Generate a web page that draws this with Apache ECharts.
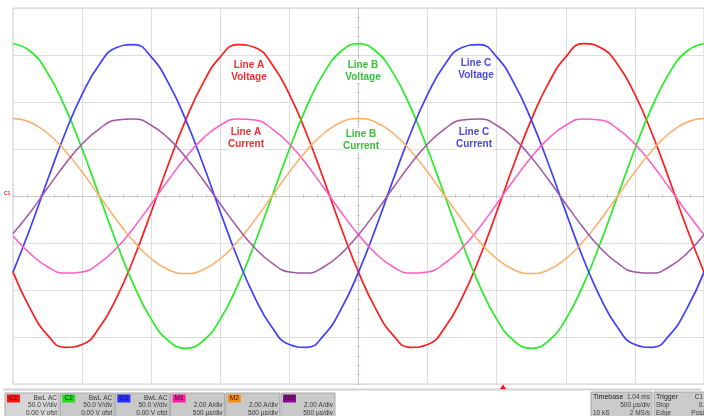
<!DOCTYPE html>
<html>
<head>
<meta charset="utf-8">
<script src="https://cdn.jsdelivr.net/npm/echarts@6/dist/echarts.min.js"></script>
<style>
html,body{margin:0;padding:0;background:#fff;}
#chart{width:704px;height:416px;}
</style>
</head>
<body>
<div id="chart"></div>
<script>
// time in ms (10 divisions of 500 us)
const timeMs = [-2.5,-2.375,-2.25,-2.125,-2,-1.875,-1.75,-1.625,-1.5,-1.375,-1.25,-1.125,-1,-0.875,-0.75,-0.625,-0.5,-0.375,-0.25,-0.125,0,0.125,0.25,0.375,0.5,0.625,0.75,0.875,1,1.125,1.25,1.375,1.5,1.625,1.75,1.875,2,2.125,2.25,2.375,2.5];
// voltages (V), 50 V/div
const lineAVoltage = [-81,-120,-148,-161,-158,-140,-108,-66,-17,34,81,120,148,161,158,140,108,66,17,-34,-81,-120,-148,-161,-158,-140,-108,-66,-17,34,81,120,148,162,158,140,108,66,17,-34,-81];
const lineBVoltage = [162,154,131,95,50,0,-50,-95,-131,-154,-162,-154,-131,-95,-50,0,50,95,131,154,162,154,131,95,50,0,-50,-95,-131,-154,-162,-154,-131,-95,-50,0,50,95,131,154,162];
const lineCVoltage = [-81,-34,17,66,108,140,158,161,148,120,81,34,-17,-66,-108,-140,-158,-161,-148,-120,-81,-34,17,66,108,140,158,161,148,120,81,34,-17,-66,-108,-140,-158,-161,-148,-120,-81];
// currents (A), 2 A/div
const lineACurrent = [-1.7,-2.45,-3.01,-3.28,-3.23,-2.86,-2.21,-1.34,-0.34,0.69,1.65,2.45,3.01,3.28,3.23,2.86,2.21,1.34,0.34,-0.69,-1.65,-2.45,-3.01,-3.28,-3.23,-2.86,-2.21,-1.34,-0.34,0.69,1.65,2.45,3.01,3.28,3.23,2.86,2.21,1.34,0.34,-0.69,-1.65];
const lineBCurrent = [3.3,3.14,2.67,1.94,1.02,0,-1.02,-1.94,-2.67,-3.14,-3.3,-3.14,-2.67,-1.94,-1.02,0,1.02,1.94,2.67,3.14,3.3,3.14,2.67,1.94,1.02,0,-1.02,-1.94,-2.67,-3.14,-3.3,-3.14,-2.67,-1.94,-1.02,0,1.02,1.94,2.67,3.14,3.3];
const lineCCurrent = [-1.6,-0.69,0.34,1.34,2.21,2.86,3.23,3.28,3.01,2.45,1.65,0.69,-0.34,-1.34,-2.21,-2.86,-3.23,-3.28,-3.01,-2.45,-1.65,-0.69,0.34,1.34,2.21,2.86,3.23,3.28,3.01,2.45,1.65,0.69,-0.34,-1.34,-2.21,-2.86,-3.23,-3.28,-3.01,-2.45,-1.65];

const seriesNames = ['Line A Voltage','Line B Voltage','Line C Voltage','Line A Current','Line B Current','Line C Current'];
const labelTexts = ['Line A\nVoltage','Line B\nVoltage','Line C\nVoltage','Line A\nCurrent','Line B\nCurrent','Line C\nCurrent'];

// bottom channel panels
const chanNames = ['C1','C2','C3','M1','M2','M3'];
const chanLine1 = ['BwL AC','BwL AC','BwL AC','','',''];
const chanLine2 = ['50.0 V/div','50.0 V/div','50.0 V/div','2.00 A/div','2.00 A/div','2.00 A/div'];
const chanLine3 = ['0.00 V ofst','0.00 V ofst','0.00 V ofst','500 µs/div','500 µs/div','500 µs/div'];
const timebaseText = [['Timebase','1.04 ms'],['','500 µs/div'],['10 kS','2 MS/s']];
const triggerText = [['Trigger','C1 AC'],['Stop','0.0 V'],['Edge','Positive']];

const traceColors = ['#ff1c1c','#22ee22','#3f3fff','#ff5cc6','#ffad66','#a255a6'];
const labelColors = ['#ee3030','#38c038','#4848dc','#ee3030','#38c038','#4848dc'];
const tagColors = ['#ff1010','#22dd22','#2a2aff','#ff1aa0','#ff8c10','#8a0a8a'];

const chart = echarts.init(document.getElementById('chart'), null, {renderer:'canvas'});

const voltData = [lineAVoltage, lineBVoltage, lineCVoltage];
const currData = [lineACurrent, lineBCurrent, lineCCurrent];
const series = [];
voltData.forEach((arr, i) => {
  series.push({
    name: seriesNames[i], type:'line', xAxisIndex:0, yAxisIndex:0,
    data: timeMs.map((t, k) => [t, arr[k]]),
    showSymbol:false, smooth:true, silent:true,
    lineStyle:{color:traceColors[i], width:1.7}, itemStyle:{color:traceColors[i]}, z:3
  });
});
currData.forEach((arr, i) => {
  series.push({
    name: seriesNames[i+3], type:'line', xAxisIndex:0, yAxisIndex:1,
    data: timeMs.map((t, k) => [t, arr[k]]),
    showSymbol:false, smooth:true, silent:true,
    lineStyle:{color:traceColors[i+3], width:1.5}, itemStyle:{color:traceColors[i+3]}, z:3
  });
});

const centerAxisLine = {onZero:true, lineStyle:{color:'#cacaca', width:1}};
const tick = {show:true, length:2, lineStyle:{color:'#cdcdcd'}};
const minor = {show:true, splitNumber:5, length:2, lineStyle:{color:'#cdcdcd'}};
const split = {show:true, lineStyle:{color:'#dedede', width:1}};

const graphic = [];
// trace labels
const labelPos = [[249,71],[363,71],[476,69],[246,138],[361,140],[474,138]];
labelTexts.forEach((txt, i) => {
  graphic.push({type:'text', x:labelPos[i][0], y:labelPos[i][1], z:10, silent:true,
    style:{text:txt, fill:labelColors[i], font:'bold 10px "Liberation Sans", Arial, sans-serif',
      align:'center', verticalAlign:'middle', lineHeight:12, backgroundColor:'#ffffff', padding:[0,1]}});
});
// C1 marker at left
graphic.push({type:'text', x:4, y:194, z:10, style:{text:'C1', fill:'#ee2020', font:'bold 5px "Liberation Sans", Arial', verticalAlign:'middle'}});
// separator line and trigger arrow
graphic.push({type:'line', z:5, shape:{x1:3, y1:389.5, x2:701, y2:389.5}, style:{stroke:'#d2d2d2', lineWidth:2}});
graphic.push({type:'polygon', z:6, shape:{points:[[500,389],[506,389],[503,384.5]]}, style:{fill:'#ee1010'}});
// channel boxes
chanNames.forEach((nm, i) => {
  const bx = 5 + i*55.2;
  graphic.push({type:'rect', z:5, shape:{x:bx, y:393, width:54, height:30},
    style:{fill: i===0 ? '#d6d6d6' : '#c9c9c9', stroke:'#a8a8a8', lineWidth:1}});
  graphic.push({type:'rect', z:6, shape:{x:bx+2, y:394.5, width:13, height:8},
    style:{fill:tagColors[i]}});
  graphic.push({type:'text', z:7, x:bx+8.5, y:398.7, style:{text:nm, fill:'#1e1e1e', font:'6.5px "Liberation Sans", Arial', align:'center', verticalAlign:'middle'}});
  const rows = [chanLine1[i], chanLine2[i], chanLine3[i]];
  rows.forEach((r, j) => {
    if (!r) return;
    graphic.push({type:'text', z:7, x:bx+52, y:397.8 + j*7.9,
      style:{text:r, fill:'#3a3a3a', font:'6.5px "Liberation Sans", Arial', align:'right', verticalAlign:'middle'}});
  });
});
// timebase / trigger boxes
[[591, 61, timebaseText],[654, 62, triggerText]].forEach(([bx, bw, rows]) => {
  graphic.push({type:'rect', z:5, shape:{x:bx, y:392, width:bw, height:30},
    style:{fill:'#cbcbcb', stroke:'#a8a8a8', lineWidth:1}});
  rows.forEach((r, j) => {
    if (r[0]) graphic.push({type:'text', z:7, x:bx+2, y:397.5 + j*8,
      style:{text:r[0], fill: j===0 ? '#222' : '#3a3a3a', font:(j===0?'7px':'6.5px')+' "Liberation Sans", Arial', align:'left', verticalAlign:'middle'}});
    if (r[1]) graphic.push({type:'text', z:7, x:bx+bw-2, y:397.5 + j*8,
      style:{text:r[1], fill:'#3a3a3a', font:'6.5px "Liberation Sans", Arial', align:'right', verticalAlign:'middle'}});
  });
});

const option = {
  animation:false,
  backgroundColor:'#ffffff',
  grid:{left:13, top:8, width:692, height:376, show:true, borderColor:'#d0d0d0', borderWidth:1, backgroundColor:'transparent'},
  xAxis:[
    {type:'value', min:-2.5, max:2.5, interval:0.5, position:'bottom', axisLine:centerAxisLine, axisTick:tick, minorTick:minor, axisLabel:{show:false}, splitLine:split},
    {type:'value', min:-2.5, max:2.5, interval:0.5, position:'top', axisLine:centerAxisLine, axisTick:tick, minorTick:minor, axisLabel:{show:false}, splitLine:{show:false}}
  ],
  yAxis:[
    {type:'value', min:-200, max:200, interval:50, position:'left', axisLine:centerAxisLine, axisTick:tick, minorTick:minor, axisLabel:{show:false}, splitLine:split},
    {type:'value', min:-8, max:8, interval:2, position:'right', axisLine:centerAxisLine, axisTick:tick, minorTick:minor, axisLabel:{show:false}, splitLine:{show:false}}
  ],
  series: series,
  graphic: graphic
};
chart.setOption(option);
</script>
</body>
</html>
